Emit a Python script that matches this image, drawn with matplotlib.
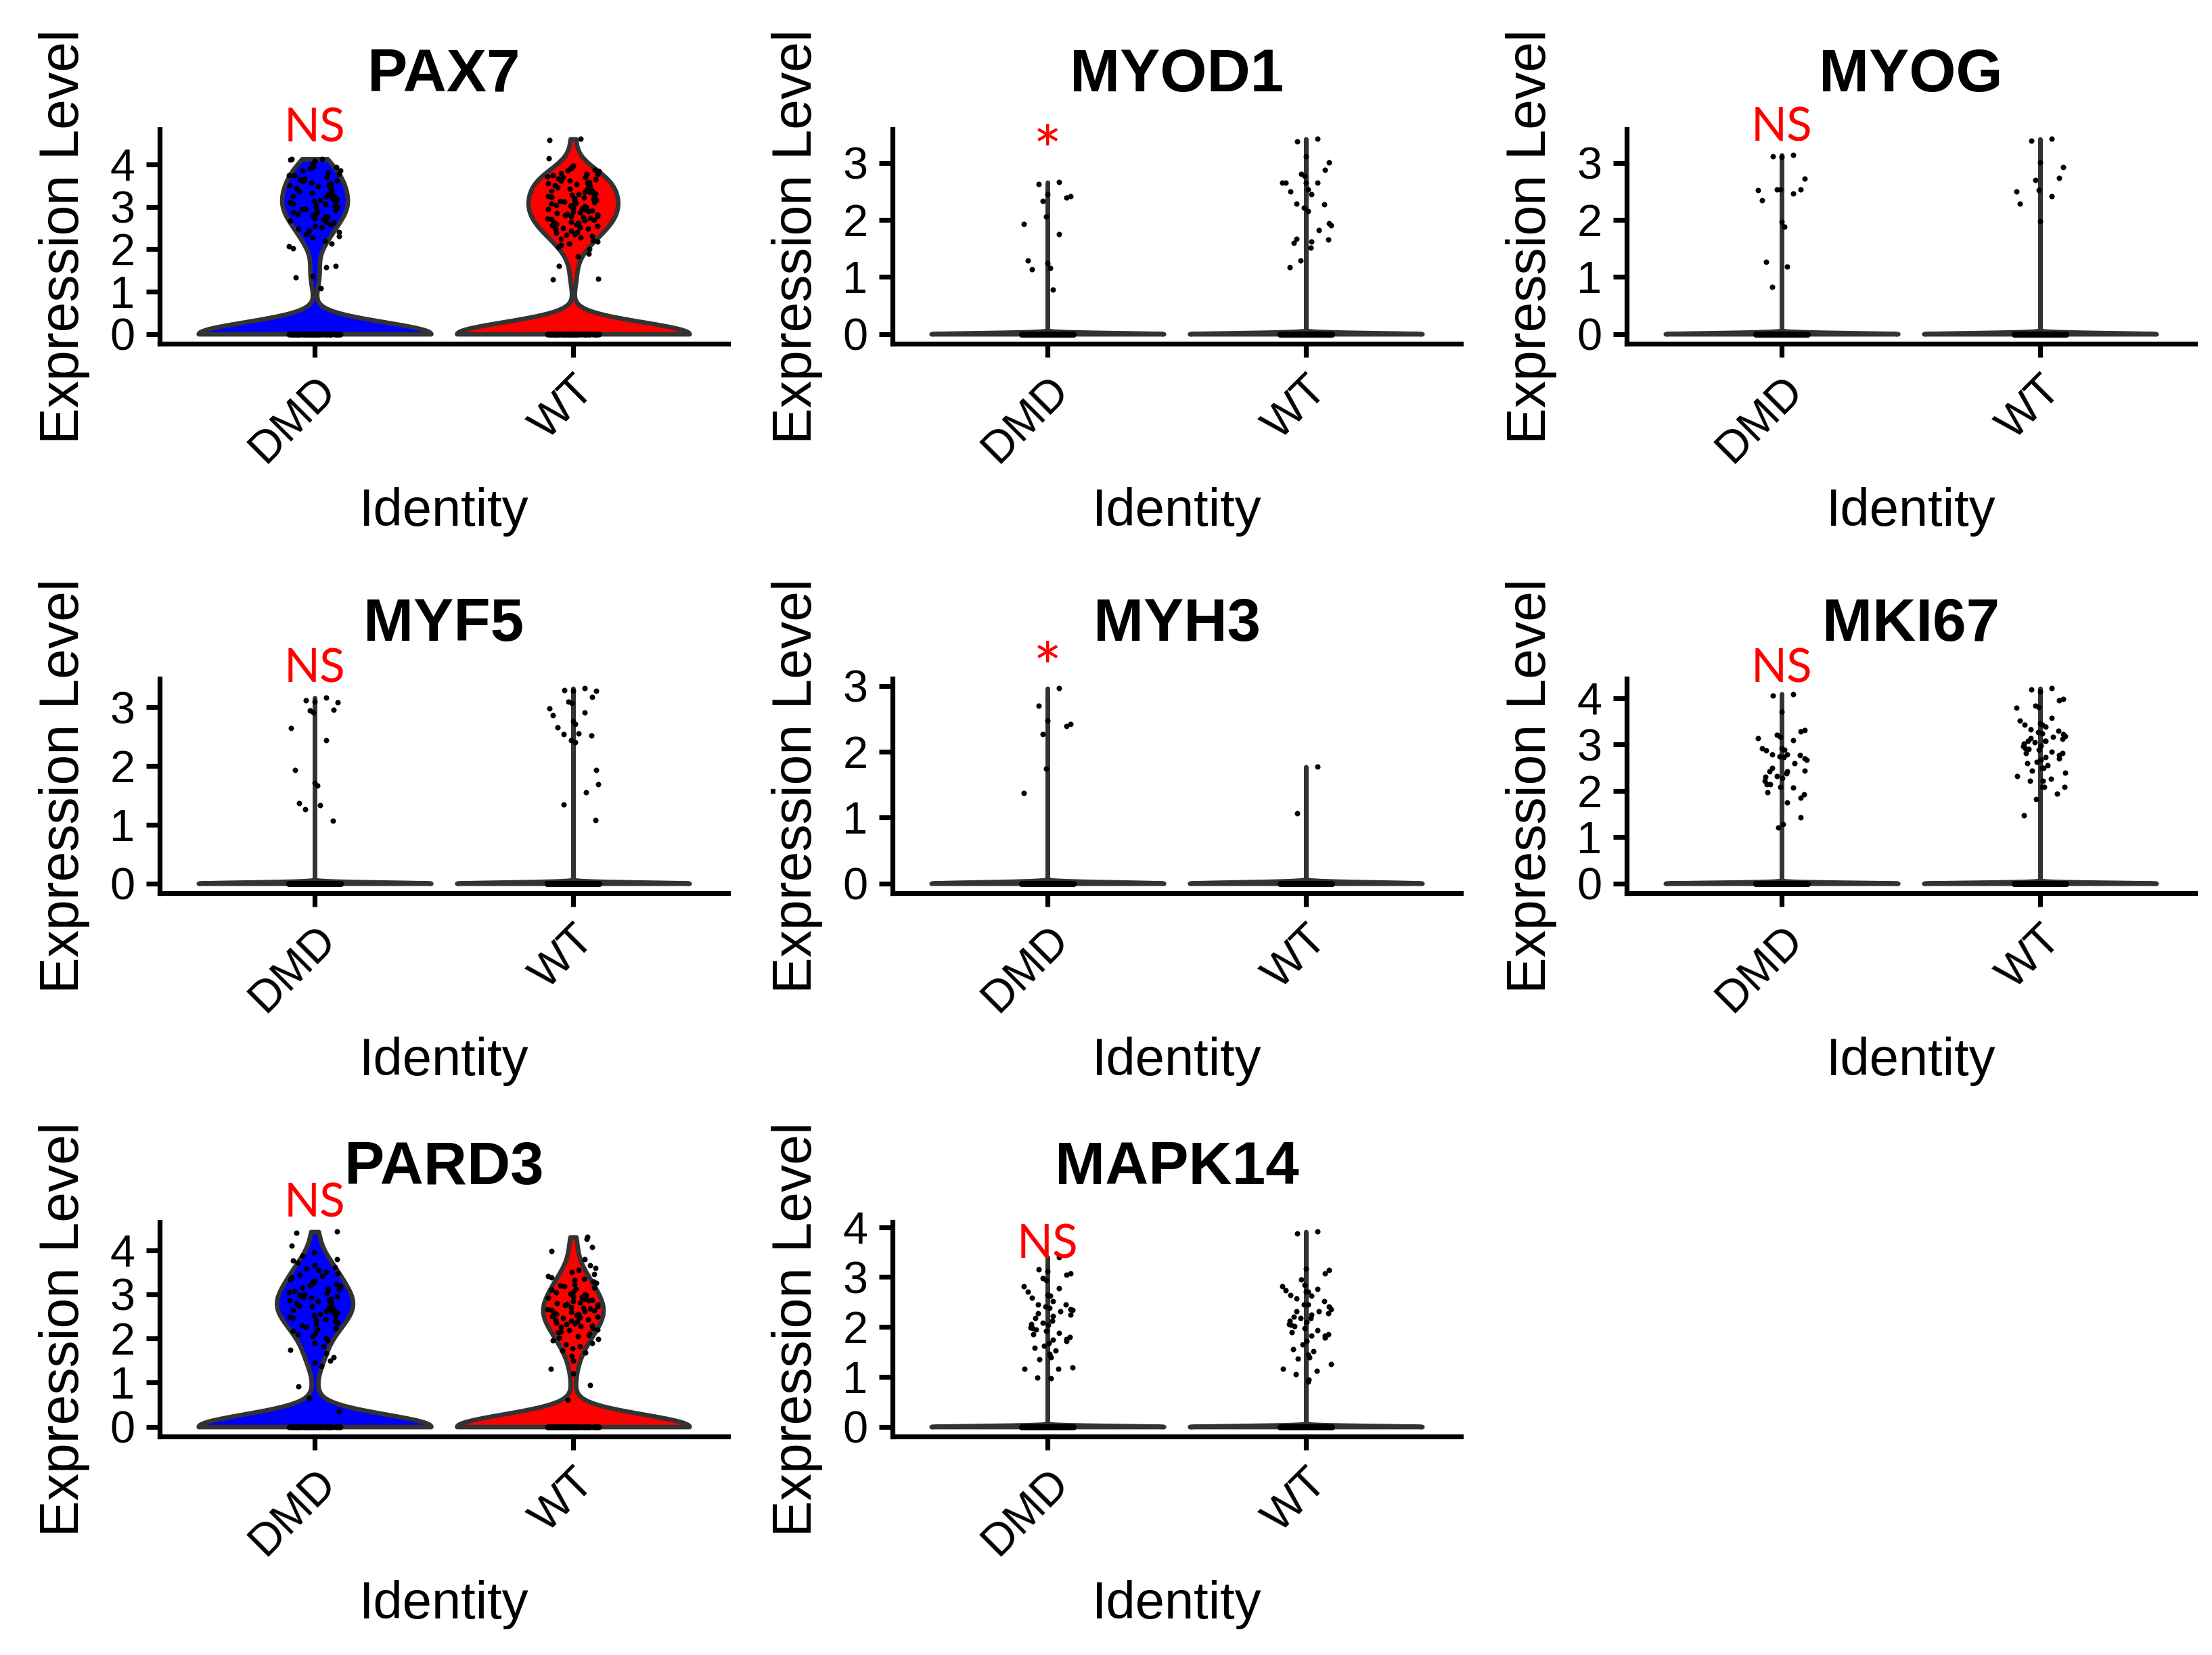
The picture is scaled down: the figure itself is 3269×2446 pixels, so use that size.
import numpy as np
import matplotlib
matplotlib.use('Agg')
import matplotlib.pyplot as plt

plt.rcParams['font.family'] = 'Liberation Sans'

# Panels (Seurat-style VlnPlot), two groups each
genes = ['PAX7', 'MYOD1', 'MYOG', 'MYF5', 'MYH3', 'MKI67', 'PARD3', 'MAPK14']
groups = ['DMD', 'WT']
group_colors = ['#0000FF', '#FF0000']
sig_labels = ['NS', '*', 'NS', 'NS', '*', 'NS', 'NS', 'NS']

# number of cells sitting at 0 (DMD, WT)
zero_cells = [(110, 110), (3000, 3000), (3000, 3000), (3000, 3000),
              (3000, 3000), (3000, 3000), (95, 140), (3000, 3000)]

# expressing cells, values
pax7_dmd = [4.13, 4.13, 4.11, 4.08, 4.02, 3.96, 3.93, 3.9, 3.86, 3.85, 3.81, 3.77,
            3.75, 3.74, 3.7, 3.66, 3.65, 3.61, 3.6, 3.57, 3.56, 3.52, 3.5, 3.49,
            3.45, 3.44, 3.41, 3.37, 3.36, 3.33, 3.31, 3.3, 3.26, 3.25, 3.23, 3.2,
            3.19, 3.16, 3.14, 3.12, 3.1, 3.08, 3.06, 3.03, 3.02, 3.0, 2.98, 2.95,
            2.94, 2.91, 2.89, 2.87, 2.84, 2.83, 2.8, 2.77, 2.75, 2.73, 2.7, 2.68,
            2.64, 2.62, 2.58, 2.55, 2.51, 2.48, 2.44, 2.4, 2.36, 2.31, 2.27, 2.2,
            2.14, 2.07, 2.02, 1.6, 1.58, 1.36, 1.34, 1.08]
pax7_wt = [4.6, 4.57, 4.15, 3.97, 3.92, 3.9, 3.87, 3.85, 3.84, 3.8, 3.78, 3.77,
           3.74, 3.72, 3.7, 3.69, 3.66, 3.65, 3.62, 3.61, 3.59, 3.57, 3.55, 3.54,
           3.52, 3.5, 3.48, 3.47, 3.45, 3.43, 3.42, 3.4, 3.38, 3.37, 3.35, 3.34,
           3.31, 3.3, 3.28, 3.27, 3.25, 3.23, 3.22, 3.2, 3.19, 3.17, 3.15, 3.14,
           3.12, 3.11, 3.09, 3.07, 3.06, 3.04, 3.03, 3.01, 3.0, 2.98, 2.96, 2.95,
           2.93, 2.92, 2.9, 2.88, 2.87, 2.85, 2.84, 2.82, 2.8, 2.79, 2.77, 2.75,
           2.74, 2.72, 2.7, 2.69, 2.67, 2.65, 2.63, 2.62, 2.6, 2.58, 2.56, 2.54,
           2.52, 2.5, 2.48, 2.46, 2.44, 2.41, 2.39, 2.36, 2.34, 2.31, 2.28, 2.25,
           2.22, 2.18, 2.14, 2.1, 2.05, 2.0, 1.9, 1.83, 1.6, 1.3, 1.28]
myod1_dmd = [2.66, 2.63, 2.45, 2.42, 2.39, 2.33, 2.06, 1.93, 1.75, 1.29, 1.24,
             1.16, 1.14, 0.78]
myod1_wt = [3.42, 3.38, 3.12, 3.01, 2.88, 2.81, 2.77, 2.65, 2.65, 2.65, 2.65, 2.54,
            2.5, 2.45, 2.28, 2.27, 2.22, 2.16, 1.94, 1.9, 1.82, 1.67, 1.66, 1.62,
            1.6, 1.52, 1.29, 1.17]
myog_dmd = [3.14, 3.12, 3.11, 2.73, 2.53, 2.53, 2.53, 2.52, 2.46, 2.35, 1.96,
            1.88, 1.26, 1.18, 0.82]
myog_wt = [3.42, 3.39, 3.01, 2.93, 2.74, 2.7, 2.52, 2.5, 2.42, 2.28, 1.98]
myf5_dmd = [3.16, 3.12, 3.1, 3.08, 2.96, 2.95, 2.91, 2.65, 2.44, 1.93, 1.71, 1.67,
            1.37, 1.33, 1.26, 1.07]
myf5_wt = [3.32, 3.29, 3.28, 3.28, 3.18, 3.1, 3.07, 2.98, 2.91, 2.86, 2.76, 2.71,
           2.66, 2.55, 2.54, 2.52, 2.44, 2.4, 1.93, 1.69, 1.55, 1.34, 1.08]
myh3_dmd = [2.96, 2.7, 2.47, 2.42, 2.39, 2.27, 1.74, 1.37]
myh3_wt = [1.77, 1.06]
mki67_dmd = [4.09, 4.05, 3.7, 3.31, 3.28, 3.21, 3.16, 3.14, 3.09, 2.92, 2.92,
             2.89, 2.87, 2.79, 2.79, 2.77, 2.74, 2.72, 2.69, 2.67, 2.59, 2.49,
             2.43, 2.42, 2.42, 2.37, 2.32, 2.3, 2.27, 2.22, 2.14, 2.14, 2.09,
             2.07, 1.97, 1.92, 1.85, 1.74, 1.42, 1.28, 1.21]
mki67_wt = [4.21, 4.19, 4.14, 3.98, 3.96, 3.83, 3.81, 3.79, 3.57, 3.52, 3.46,
            3.42, 3.42, 3.38, 3.33, 3.29, 3.27, 3.24, 3.22, 3.18, 3.17, 3.14,
            3.12, 3.08, 3.08, 3.07, 3.05, 3.02, 2.97, 2.96, 2.92, 2.9, 2.89,
            2.85, 2.82, 2.81, 2.77, 2.72, 2.69, 2.67, 2.62, 2.59, 2.55, 2.49,
            2.49, 2.44, 2.39, 2.32, 2.26, 2.22, 2.21, 2.09, 2.08, 2.08, 1.94,
            1.82, 1.47]
pard3_dmd = [4.42, 4.39, 4.1, 3.95, 3.88, 3.8, 3.76, 3.72, 3.66, 3.62, 3.58, 3.55,
             3.51, 3.47, 3.44, 3.41, 3.38, 3.34, 3.31, 3.29, 3.26, 3.23, 3.2, 3.18,
             3.15, 3.12, 3.1, 3.08, 3.05, 3.03, 3.0, 2.98, 2.96, 2.94, 2.92, 2.9,
             2.88, 2.86, 2.84, 2.82, 2.8, 2.78, 2.76, 2.74, 2.72, 2.7, 2.68, 2.66,
             2.64, 2.62, 2.6, 2.58, 2.56, 2.53, 2.51, 2.49, 2.46, 2.44, 2.41, 2.39,
             2.36, 2.33, 2.3, 2.27, 2.24, 2.2, 2.17, 2.13, 2.09, 2.05, 2.0, 1.95,
             1.89, 1.82, 1.74, 1.66, 1.58, 1.5, 1.45, 1.37, 0.92, 0.66, 0.35]
pard3_wt = [4.3, 4.26, 4.08, 3.98, 3.8, 3.66, 3.6, 3.55, 3.5, 3.46, 3.42, 3.38,
            3.35, 3.32, 3.29, 3.26, 3.23, 3.2, 3.18, 3.15, 3.12, 3.1, 3.07, 3.05,
            3.02, 3.0, 2.98, 2.96, 2.94, 2.92, 2.9, 2.88, 2.86, 2.84, 2.82, 2.8,
            2.78, 2.77, 2.75, 2.73, 2.71, 2.7, 2.68, 2.66, 2.65, 2.63, 2.61, 2.6,
            2.58, 2.56, 2.55, 2.53, 2.51, 2.5, 2.48, 2.46, 2.44, 2.42, 2.4, 2.38,
            2.36, 2.34, 2.32, 2.3, 2.28, 2.26, 2.24, 2.21, 2.19, 2.16, 2.14, 2.11,
            2.08, 2.05, 2.02, 1.98, 1.95, 1.9, 1.86, 1.82, 1.77, 1.72, 1.68, 1.6,
            1.5, 1.31, 1.21, 0.95, 0.61]
mapk14_dmd = [3.4, 3.15, 3.12, 3.08, 3.05, 2.98, 2.94, 2.82, 2.78, 2.71, 2.64,
              2.62, 2.59, 2.52, 2.45, 2.45, 2.41, 2.38, 2.36, 2.34, 2.32, 2.27,
              2.25, 2.22, 2.18, 2.12, 2.08, 2.06, 2.04, 1.99, 1.97, 1.95, 1.92,
              1.88, 1.85, 1.8, 1.76, 1.74, 1.72, 1.68, 1.62, 1.58, 1.53, 1.46,
              1.39, 1.35, 1.19, 1.16, 1.16, 0.99, 0.97]
mapk14_wt = [3.91, 3.88, 3.17, 3.14, 3.08, 2.95, 2.85, 2.82, 2.76, 2.73, 2.71,
             2.71, 2.64, 2.62, 2.57, 2.52, 2.45, 2.45, 2.41, 2.36, 2.32, 2.32,
             2.28, 2.25, 2.2, 2.18, 2.18, 2.13, 2.1, 2.06, 2.04, 2.02, 1.97,
             1.94, 1.9, 1.85, 1.83, 1.82, 1.79, 1.72, 1.65, 1.55, 1.51, 1.45,
             1.39, 1.37, 1.26, 1.16, 1.12, 1.05, 0.95, 0.91]

expressed = [(pax7_dmd, pax7_wt), (myod1_dmd, myod1_wt), (myog_dmd, myog_wt),
             (myf5_dmd, myf5_wt), (myh3_dmd, myh3_wt), (mki67_dmd, mki67_wt),
             (pard3_dmd, pard3_wt), (mapk14_dmd, mapk14_wt)]

# kernel bandwidth for each violin and where the significance label sits
violin_bw = [0.28, 0.02, 0.02, 0.02, 0.02, 0.02, 0.28, 0.02]
sig_y = [4.53, 2.78, 3.38, 3.42, 2.9, 4.34, 4.76, 3.38]


def violin_shape(vals, bw, n=1200):
    # gaussian kde, trimmed to the data range, scaled to max 1
    grid = np.linspace(vals.min(), vals.max(), n)
    dens = np.zeros_like(grid)
    u, c = np.unique(vals, return_counts=True)
    for v, k in zip(u, c):
        dens += k * np.exp(-0.5 * ((grid - v) / bw) ** 2)
    return grid, dens / dens.max()


def jitter(n):
    # deterministic (hash-like) spread of +-0.1 around the group centre
    i = np.arange(n) + 1.0
    return ((np.sin(i * 12.9898) * 43758.5453) % 1.0 - 0.5) * 0.2


W, H = 3269, 2446
fig = plt.figure(figsize=(W / 200, H / 200), dpi=200)
col_left = [236, 1319, 2404]
row_top = [191, 1003, 1806]
ax_w, ax_h = 840, 317

for i, gene in enumerate(genes):
    r, c = divmod(i, 3)
    ax = fig.add_axes([col_left[c] / W, 1 - (row_top[r] + ax_h) / H, ax_w / W, ax_h / H])

    all_vals = []
    for g in range(2):
        vals = np.concatenate([np.zeros(zero_cells[i][g]), np.array(expressed[i][g])])
        all_vals.append(vals)
        x0 = g + 1
        grid, d = violin_shape(vals, violin_bw[i])
        ax.fill_betweenx(grid, x0 - 0.45 * d, x0 + 0.45 * d, facecolor=group_colors[g],
                         edgecolor='#333333', linewidth=2.4, zorder=2)
        ax.plot(x0 + jitter(len(vals)), vals, 'o', color='black', markersize=2.9,
                markeredgewidth=0, zorder=3)

    ymax = max(v.max() for v in all_vals)
    ax.set_ylim(-0.05 * ymax, 1.05 * ymax)
    ax.set_xlim(0.4, 2.6)
    ax.set_yticks(np.arange(0, int(1.05 * ymax) + 1))

    star = sig_labels[i] == '*'
    ax.text(1.0, sig_y[i], sig_labels[i], color='#FF0000', fontsize=36 if star else 25,
            family='Lato', ha='center', va='baseline', clip_on=False, zorder=4)

    for s in ['top', 'right']:
        ax.spines[s].set_visible(False)
    for s in ['left', 'bottom']:
        ax.spines[s].set_linewidth(2.6)
    ax.tick_params(width=2.6, length=7.2, labelsize=24, pad=6, colors='black')
    ax.set_xticks([1, 2])
    ax.set_xticklabels(groups, rotation=45, ha='right', va='top', rotation_mode='anchor')

    ax.set_ylabel('Expression Level', fontsize=29, va='center')
    ax.yaxis.set_label_coords(-0.168, 0.5)
    ax.set_xlabel('Identity', fontsize=28, va='baseline')
    ax.xaxis.set_label_coords(0.5, -0.849)
    ax.text(0.5, 1.178, gene, transform=ax.transAxes, ha='center', va='baseline',
            fontsize=32, fontweight='bold')

fig.savefig('out.png', dpi=200, facecolor='white')
